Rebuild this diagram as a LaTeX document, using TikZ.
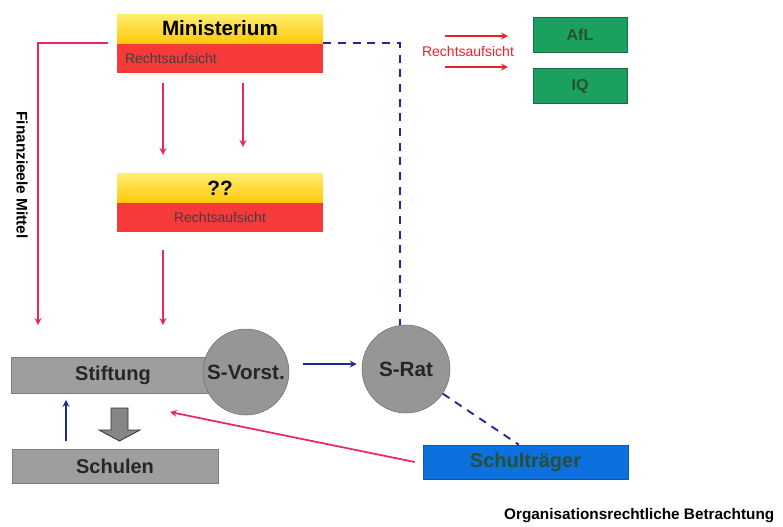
\documentclass[tikz,border=0pt]{standalone}
\usepackage{fontspec}
\setmainfont{Liberation Sans}
\usetikzlibrary{positioning}

\definecolor{gelbhell}{RGB}{255,238,110}
\definecolor{gelbdunkel}{RGB}{255,200,10}
\definecolor{rotbox}{RGB}{246,58,58}
\definecolor{pinkline}{RGB}{232,40,95}
\definecolor{rotline}{RGB}{240,30,40}
\definecolor{graubox}{RGB}{158,158,158}
\definecolor{gruenbox}{RGB}{28,160,95}
\definecolor{gruentext}{RGB}{40,80,50}
\definecolor{blaubox}{RGB}{12,112,222}
\definecolor{blauline}{RGB}{30,40,150}

\tikzset{
  gelbbox/.style={top color=gelbhell,bottom color=gelbdunkel,minimum width=154.5pt,
    minimum height=21.75pt,inner sep=0pt,font=\bfseries\fontsize{15.5}{17}\selectfont},
  rotfeld/.style={fill=rotbox,minimum width=154.5pt,minimum height=21.75pt,inner sep=0pt,
    font=\fontsize{10.5}{12}\selectfont,text=black!75},
  graubalken/.style={fill=graubox,draw=graubox!80!black,line width=0.4pt,inner sep=0pt,
    font=\bfseries\fontsize{15}{17}\selectfont,text=black!85},
  kreis/.style={circle,fill=graubox!95!black,draw=graubox!70!black,inner sep=0pt,
    font=\bfseries\fontsize{15.5}{17}\selectfont,text=black!85},
  gruenbox/.style={fill=gruenbox,draw=gruenbox!70!black,line width=0.4pt,minimum width=70.5pt,
    minimum height=26pt,inner sep=0pt,font=\bfseries\fontsize{12}{14}\selectfont,text=gruentext},
  pinkarr/.style={->,draw=pinkline,line width=1.3pt},
  rotarr/.style={->,draw=rotline,line width=1.3pt},
  bluearr/.style={->,draw=blauline,line width=1.3pt},
  dashblue/.style={draw=blauline,line width=1.4pt,dash pattern=on 6pt off 5pt}
}

\begin{document}
\begin{tikzpicture}[>=stealth,x=0.75pt,y=-0.75pt]
\useasboundingbox (0,0) rectangle (783,526);
% obere Kaesten
\node[gelbbox] (minist) at (220,28.5) {Ministerium};
\node[rotfeld,below=0pt of minist,align=left,text width=142.5pt,inner xsep=6pt] (minrot) {Rechtsaufsicht};
\node[gelbbox] (frage) at (220,188) {??};
\node[rotfeld,below=0pt of frage] (fragerot) {Rechtsaufsicht};

% Stiftung, Schulen, Kreise
\node[graubalken,minimum width=152.25pt,minimum height=27pt] (stiftung) at (113,375) {Stiftung};
\node[graubalken,minimum width=154.5pt,minimum height=25.5pt] (schulen) at (115,466) {Schulen};
\node[kreis,minimum size=64.5pt] (svorst) at (246,372) {S-Vorst.};
\node[kreis,minimum size=66pt] (srat) at (406,369) {S-Rat};
\node[fill=blaubox,draw=blaubox!80!black,minimum width=153.75pt,minimum height=25.5pt,inner sep=0pt,
  font=\bfseries\fontsize{15}{17}\selectfont,text=gruentext] (schultr) at (525.5,462) {Schulträger};

% AfL / IQ
\node[gruenbox] (afl) at (580,34.5) {AfL};
\node[gruenbox] (iq) at (580,86) {IQ};
\node[text=rotline,font=\fontsize{10.5}{12}\selectfont] (rechts) at (468,51) {Rechtsaufsicht};

\coordinate (r1a) at (445,36); \coordinate (r1b) at (508,36);
\coordinate (r2a) at (445,67); \coordinate (r2b) at (508,67);
\draw[rotarr] (r1a) -- (r1b);
\draw[rotarr] (r2a) -- (r2b);

% Pfeile von oben
\coordinate (m1) at (163,83); \coordinate (m1e) at (163,155);
\coordinate (m2) at (243,83); \coordinate (m2e) at (243,147);
\coordinate (f1) at (163,250); \coordinate (f1e) at (163,325);
\draw[pinkarr] (m1) -- (m1e);
\draw[pinkarr] (m2) -- (m2e);
\draw[pinkarr] (f1) -- (f1e);

% Finanzieele Mittel
\coordinate (fin) at (38,325);
\draw[pinkarr] ([xshift=-6.75pt]minrot.north west) -| (fin);
\node[rotate=-90,font=\bfseries\fontsize{11.5}{13}\selectfont] (finlabel) at (22,175) {Finanzieele Mittel};

% gestrichelt
\draw[dashblue] (minrot.north east) -| ([xshift=-4.5pt]srat.north);
\draw[dashblue] (srat) -- ([xshift=-5pt]schultr.north);

% blaue Pfeile
\draw[bluearr] ([xshift=10.5pt,yshift=6pt]svorst.east) -- ([xshift=-3.75pt,yshift=3.75pt]srat.west);
\coordinate (u) at (66,0);
\draw[bluearr,shorten <=6pt,shorten >=5pt] (schulen.north -| u) -- (stiftung.south -| u);

% Schultraeger -> Stiftung
\coordinate (stend) at (170,412);
\draw[pinkarr] ([xshift=-6pt]schultr.west) -- (stend);

% Blockpfeil
\filldraw[fill=graubox!85!black,draw=black!80,line width=0.6pt]
  (111,408) -- (128,408) -- (128,430) -- (140,430) -- (119.5,441) -- (99,430) -- (111,430) -- cycle;

\node[anchor=east,font=\bfseries\fontsize{11.5}{13}\selectfont] (titel) at (779,516) {Organisationsrechtliche Betrachtung};
\end{tikzpicture}
\end{document}
